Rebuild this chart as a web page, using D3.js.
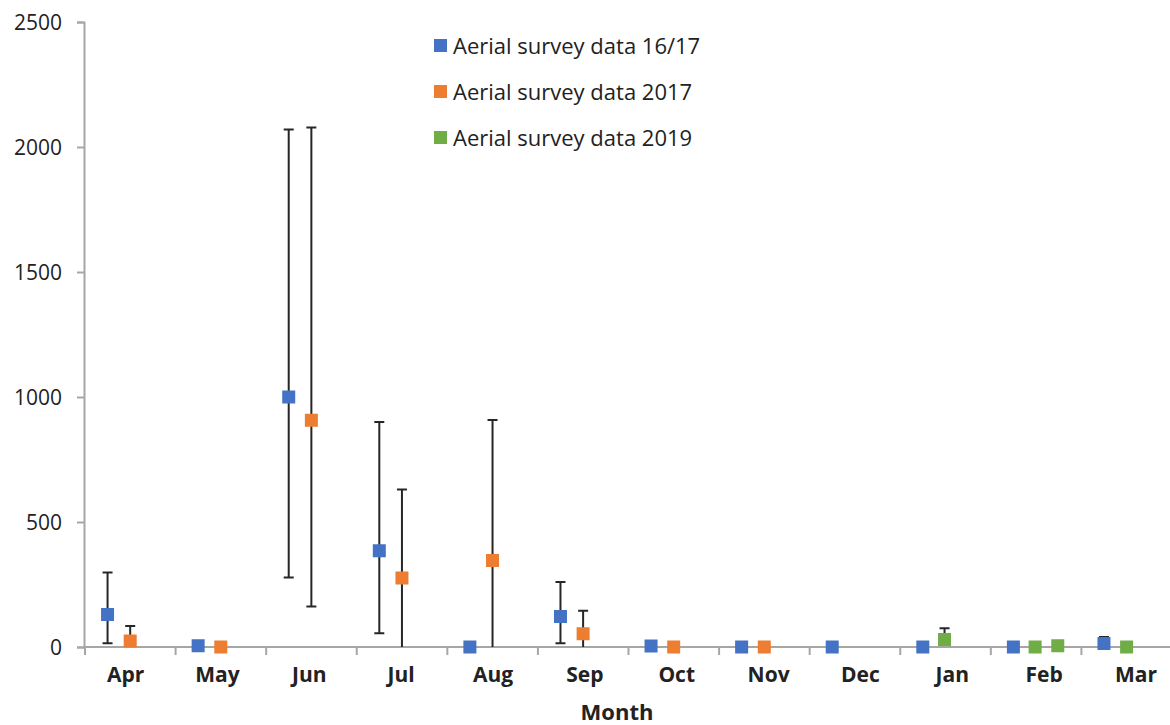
<!DOCTYPE html>
<html>
<head>
<meta charset="utf-8">
<script src="https://cdn.jsdelivr.net/npm/d3@7"></script>
<style>
  html, body { margin: 0; padding: 0; background: #fff; }
  svg text { font-family: "Open Sans", "Noto Sans", sans-serif; fill: #222; }
</style>
</head>
<body>
<svg id="chart" width="1170" height="725"></svg>
<script>
// Month categories along the x axis
const months = ["Apr", "May", "Jun", "Jul", "Aug", "Sep", "Oct", "Nov", "Dec", "Jan", "Feb", "Mar"];
const yTicks = [0, 500, 1000, 1500, 2000, 2500];

// Aerial survey data 16/17 — survey position in month units, mean, upper and lower bounds
const s1617Pos   = [0.26, 1.26, 2.26, 3.26, 4.26, 5.26, 6.26, 7.26, 8.26, 9.26, 10.26, 11.26];
const s1617Value = [130, 5, 1000, 385, 0, 122, 4, 0, 0, 0, 0, 14];
const s1617Upper = [298, null, 2070, 900, null, 260, null, null, null, null, null, 40];
const s1617Lower = [15, null, 278, 55, null, 15, null, null, null, null, null, null];

// Aerial survey data 2017
const s2017Pos   = [0.51, 1.51, 2.51, 3.51, 4.51, 5.51, 6.51, 7.51];
const s2017Value = [24, 0, 907, 276, 346, 53, 0, 0];
const s2017Upper = [84, null, 2078, 630, 908, 145, null, null];
const s2017Lower = [0, null, 162, 0, 0, 0, null, null];

// Aerial survey data 2019
const s2019Pos   = [9.5, 10.5, 10.75, 11.51];
const s2019Value = [30, 0, 5, 0];
const s2019Upper = [75, null, null, null];
const s2019Lower = [null, null, null, null];

const seriesNames  = ["Aerial survey data 16/17", "Aerial survey data 2017", "Aerial survey data 2019"];
const seriesColors = ["#4472C4", "#ED7D31", "#70AD47"];

const series = [
  { pos: s1617Pos, val: s1617Value, up: s1617Upper, lo: s1617Lower },
  { pos: s2017Pos, val: s2017Value, up: s2017Upper, lo: s2017Lower },
  { pos: s2019Pos, val: s2019Value, up: s2019Upper, lo: s2019Lower }
].map((s, i) => ({
  name: seriesNames[i],
  color: seriesColors[i],
  points: s.pos.map((p, j) => ({ x: p, y: s.val[j], up: s.up[j], lo: s.lo[j] }))
}));

const svg = d3.select("#chart");
const plot = { left: 84, right: 1171, top: 22, bottom: 647 };

const x = d3.scaleLinear().domain([0, months.length]).range([plot.left, plot.right]);
const y = d3.scaleLinear().domain([0, 2500]).range([plot.bottom, plot.top]);
// month labels are spread slightly wider than the tick grid
const xLabel = d3.scalePoint().domain(months).range([125.6, 1136]);
const axisColor = "#a6a6a6";

// Y axis
const yAxis = svg.append("g")
  .attr("transform", `translate(${plot.left},0)`)
  .call(d3.axisLeft(y).tickValues(yTicks).tickSize(7).tickPadding(15).tickFormat(d3.format("d")));
yAxis.select(".domain").attr("stroke", axisColor).attr("stroke-width", 2);
yAxis.selectAll(".tick line").attr("stroke", axisColor).attr("stroke-width", 2);
yAxis.selectAll(".tick text").attr("font-size", 21).attr("fill", "#222")
  .attr("dy", "0.36em")
  .style("font-family", "'Open Sans', sans-serif");

// X axis: ticks sit on month boundaries
const xAxisG = svg.append("g").attr("transform", `translate(0,${plot.bottom})`);
xAxisG.append("line")
  .attr("x1", plot.left).attr("x2", 1170)
  .attr("stroke", axisColor).attr("stroke-width", 2);
xAxisG.selectAll(".xtick")
  .data(d3.range(0, months.length))
  .join("line")
  .attr("x1", d => x(d) + 1).attr("x2", d => x(d) + 1)
  .attr("y1", 0).attr("y2", 8)
  .attr("stroke", axisColor).attr("stroke-width", 2);
xAxisG.selectAll(".xlabel")
  .data(months)
  .join("text")
  .attr("x", d => xLabel(d))
  .attr("y", 35)
  .attr("text-anchor", "middle")
  .attr("font-size", 21)
  .attr("font-weight", "bold")
  .text(d => d);

svg.append("text")
  .attr("x", 617).attr("y", 720)
  .attr("text-anchor", "middle")
  .attr("font-size", 22)
  .attr("font-weight", "bold")
  .text("Month");

// Error bars
const capHalf = 5;
const errG = svg.append("g");
series.forEach(s => {
  s.points.forEach(p => {
    if (p.up == null && p.lo == null) return;
    const top = p.up != null ? p.up : p.y;
    const bot = p.lo != null ? p.lo : p.y;
    const cx = x(p.x);
    errG.append("line")
      .attr("x1", cx).attr("x2", cx)
      .attr("y1", y(top)).attr("y2", y(bot))
      .attr("stroke", "#262626").attr("stroke-width", 2);
    if (p.up != null) {
      errG.append("line")
        .attr("x1", cx - capHalf).attr("x2", cx + capHalf)
        .attr("y1", y(p.up)).attr("y2", y(p.up))
        .attr("stroke", "#262626").attr("stroke-width", 2);
    }
    if (p.lo != null && p.lo > 0) {
      errG.append("line")
        .attr("x1", cx - capHalf).attr("x2", cx + capHalf)
        .attr("y1", y(p.lo)).attr("y2", y(p.lo))
        .attr("stroke", "#262626").attr("stroke-width", 2);
    }
  });
});

// Square markers
const size = 13;
series.forEach(s => {
  svg.append("g").selectAll("rect")
    .data(s.points)
    .join("rect")
    .attr("x", d => x(d.x) - size / 2)
    .attr("y", d => y(d.y) - size / 2)
    .attr("width", size).attr("height", size)
    .attr("fill", s.color);
});

// Legend
const legend = svg.append("g").attr("transform", "translate(434,46)");
series.forEach((s, i) => {
  const g = legend.append("g").attr("transform", `translate(0,${i * 46})`);
  g.append("rect").attr("x", 0).attr("y", -7).attr("width", 13).attr("height", 13).attr("fill", s.color);
  g.append("text").attr("x", 19).attr("y", 8).attr("font-size", 22).text(s.name);
});
</script>
</body>
</html>
